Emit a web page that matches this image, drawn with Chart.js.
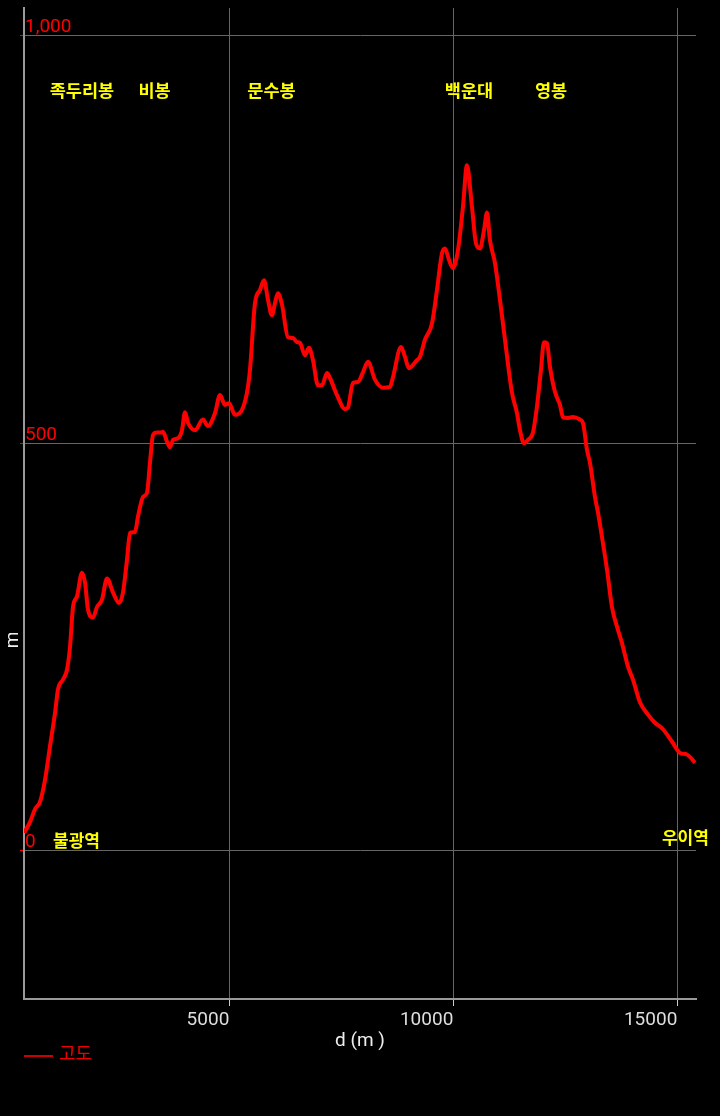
<!DOCTYPE html>
<html>
<head>
<meta charset="utf-8">
<script src="https://cdn.jsdelivr.net/npm/chart.js@4.4.1/dist/chart.umd.min.js"></script>
<style>
  html, body { margin: 0; padding: 0; background: #000; }
</style>
</head>
<body>
<canvas id="profile" width="720" height="1116"></canvas>
<script>
// elevation profile, distance (m) vs altitude (m)
const distances = [
  420, 551, 663, 774, 886, 997, 1109, 1176, 1287, 1377, 1444, 1511, 1600, 1712, 1779, 1845,
  1957, 2046, 2158, 2270, 2403, 2537, 2627, 2716, 2783, 2895, 2962, 3073, 3162, 3229, 3296,
  3386, 3475, 3520, 3609, 3676, 3743, 3855, 3944, 4011, 4078, 4234, 4412, 4524, 4680, 4792,
  4903, 4993, 5127, 5283, 5394, 5461, 5573, 5685, 5774, 5863, 5952, 6019, 6086, 6176, 6309,
  6421, 6510, 6577, 6689, 6778, 6867, 6979, 7068, 7180, 7247, 7403, 7582, 7649, 7760, 7872,
  7983, 8095, 8251, 8430, 8586, 8653, 8832, 8921, 9010, 9189, 9256, 9367, 9524, 9635, 9747,
  9814, 9903, 9992, 10104, 10215, 10305, 10416, 10506, 10595, 10684, 10751, 10818, 10930,
  11041, 11153, 11309, 11421, 11488, 11577, 11666, 11778, 11867, 11956, 12023, 12090, 12157,
  12269, 12381, 12447, 12559, 12671, 12827, 12894, 12983, 13050, 13162, 13229, 13318, 13430,
  13541, 13653, 13764, 13898, 14010, 14166, 14345, 14501, 14679, 14880, 15059, 15215, 15394
];
const elevations = [
  22, 35, 51, 60, 87, 128, 169, 198, 210, 222, 250, 299, 312, 341, 329, 296,
  286, 299, 308, 334, 317, 304, 317, 357, 390, 391, 410, 434, 439, 476, 510,
  513, 513, 514, 502, 495, 504, 506, 516, 538, 525, 516, 529, 521, 537, 559,
  547, 549, 535, 541, 562, 590, 672, 688, 700, 676, 657, 672, 684, 670, 630,
  629, 624, 623, 608, 617, 602, 571, 571, 586, 580, 559, 542, 544, 574, 575,
  587, 600, 578, 568, 569, 581, 618, 606, 592, 602, 606, 627, 647, 688, 733,
  739, 725, 715, 737, 790, 841, 790, 745, 739, 761, 783, 749, 721,
  676, 627, 562, 537, 516, 500, 504, 513, 545, 590, 624, 623, 594,
  563, 547, 532, 531, 532, 529, 525, 492, 476, 434, 415, 385, 345,
  299, 275, 255, 226, 210, 182, 167, 157, 149, 134, 120, 118, 108
];

const xTickValues = [5000, 10000, 15000];
const yTickValues = [0, 500, 1000];

const peakNames = ["족두리봉", "비봉", "문수봉", "백운대", "영봉"];
const peakDist = [1710, 3330, 5940, 10350, 12180];
const peakElev = [933, 933, 933, 933, 933];

const stationNames = ["불광역", "우이역"];
const stationDist = [1590, 15180];
const stationElev = [13, 16];

const points = distances.map((d, i) => ({ x: d, y: elevations[i] }));

const placeLabels = {
  id: "placeLabels",
  afterDatasetsDraw(chart) {
    const { ctx, scales } = chart;
    ctx.save();
    ctx.fillStyle = "#ffff00";
    ctx.textAlign = "center";
    ctx.textBaseline = "middle";
    ctx.font = "bold 17.5px 'Noto Sans CJK KR'";
    peakNames.forEach((name, i) => {
      ctx.fillText(name, scales.x.getPixelForValue(peakDist[i]), scales.y.getPixelForValue(peakElev[i]));
    });
    ctx.font = "bold 17px 'Noto Sans CJK KR'";
    stationNames.forEach((name, i) => {
      ctx.fillText(name, scales.x.getPixelForValue(stationDist[i]), scales.y.getPixelForValue(stationElev[i]));
    });
    ctx.restore();
  }
};

// legend and the y title are drawn by hand
const extras = {
  id: "extras",
  afterDraw(chart) {
    const { ctx, chartArea } = chart;
    const ds = chart.data.datasets[0];
    const y = chartArea.bottom + 57;
    ctx.save();
    ctx.strokeStyle = "#cc0000";
    ctx.lineWidth = 2;
    ctx.beginPath();
    ctx.moveTo(chartArea.left, y);
    ctx.lineTo(chartArea.left + 29, y);
    ctx.stroke();
    ctx.fillStyle = "#ee0000";
    ctx.font = "18px 'Noto Sans CJK KR'";
    ctx.textBaseline = "middle";
    ctx.fillText(ds.label, chartArea.left + 35, y - 3);

    ctx.translate(13, 640);
    ctx.rotate(-Math.PI / 2);
    ctx.fillStyle = "#eee";
    ctx.font = "19px Roboto";
    ctx.textAlign = "center";
    ctx.fillText("m", 0, 0);
    ctx.restore();
  }
};

new Chart(document.getElementById("profile"), {
  type: "line",
  data: {
    datasets: [
      {
        label: "고도",
        data: points,
        borderColor: "#ff0000",
        borderWidth: 4,
        pointRadius: 0,
        fill: false,
        cubicInterpolationMode: "monotone"
      }
    ]
  },
  options: {
    responsive: false,
    animation: false,
    devicePixelRatio: 1,
    locale: "en-US",
    layout: { padding: { top: 8, right: 24, bottom: 63, left: 0 } },
    plugins: {
      legend: { display: false },
      tooltip: { enabled: false }
    },
    scales: {
      x: {
        type: "linear",
        min: 417,
        max: 15417,
        afterBuildTicks: (s) => { s.ticks = xTickValues.map((v) => ({ value: v })); },
        afterFit: (s) => { s.height = 54; },
        grid: { color: "#666", lineWidth: 1, tickLength: 7, tickColor: "#ccc" },
        border: { color: "#999", width: 2 },
        ticks: {
          color: "#ddd",
          font: { family: "Roboto", size: 19 },
          padding: 3,
          align: "end",
          maxRotation: 0,
          callback: (v) => String(v)
        },
        title: {
          display: true,
          text: "d (m )",
          color: "#eee",
          font: { family: "Roboto", size: 19 },
          padding: 0
        }
      },
      y: {
        min: -182,
        max: 1034,
        afterBuildTicks: (s) => { s.ticks = yTickValues.map((v) => ({ value: v })); },
        afterFit: (s) => { s.width = 24; s.paddingTop = 0; s.paddingBottom = 0; },
        grid: { color: "#666", lineWidth: 1, tickLength: 4, tickColor: "#ff0000" },
        border: { color: "#999", width: 2 },
        ticks: {
          mirror: true,
          padding: 1,
          labelOffset: -8,
          color: "#ff0000",
          font: { family: "Roboto", size: 19 }
        },
        title: { display: false }
      }
    }
  },
  plugins: [placeLabels, extras]
});
</script>
</body>
</html>
